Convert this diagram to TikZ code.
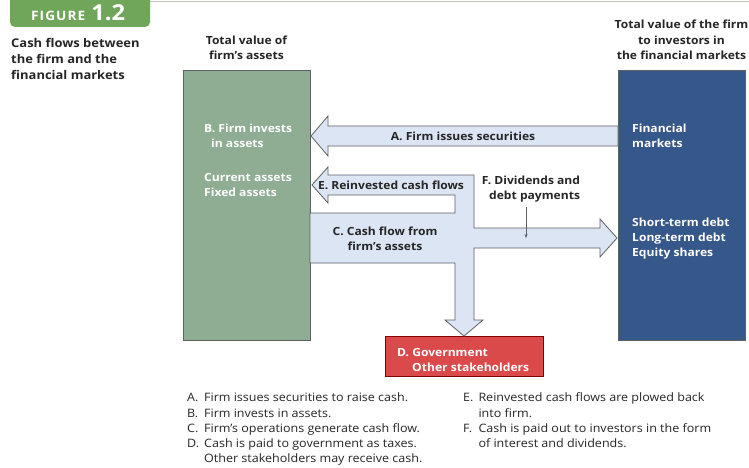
\documentclass[tikz,border=0pt]{standalone}
\usepackage{fontspec}
\usetikzlibrary{arrows.meta}
\setmainfont{Open Sans}[FakeStretch=1.08]
\newfontfamily\figfont{Open Sans}[LetterSpace=8,FakeStretch=1.05]
\definecolor{figgreen}{HTML}{6FA65A}
\definecolor{boxgreen}{HTML}{8EAD93}
\definecolor{boxblue}{HTML}{35578A}
\definecolor{arrowfill}{HTML}{DCE5F3}
\definecolor{redbox}{HTML}{DA4A4A}
\definecolor{textdark}{HTML}{262626}
\definecolor{edgegray}{HTML}{5E6066}
\begin{document}
\begin{tikzpicture}[x=1pt,y=-1pt,
  lbl/.style={font=\fontsize{11.2}{15.5}\selectfont\bfseries, text=textdark, inner sep=0pt},
  wlbl/.style={font=\fontsize{11.2}{15}\selectfont\bfseries, text=white, inner sep=0pt, align=left},
  flow/.style={fill=arrowfill, draw=edgegray, line width=0.8pt, line join=miter},
  legend/.style={font=\fontsize{11.6}{15.2}\selectfont, text=textdark, inner sep=0pt, anchor=north west}]
\useasboundingbox (0,0) rectangle (749,468);
\fill[white] (0,0) rectangle (749,468);
% top rule and tab
\draw[figgreen!50!gray!50, line width=1pt] (150,2) -- (749,2);
\fill[figgreen, rounded corners=5pt] (10,-10) rectangle (150,27);
\node[inner sep=0pt, text=white, anchor=base west] (fig) at (31,21) {{\figfont\fontsize{13}{13}\selectfont\bfseries FIGURE}\hspace{6pt}{\fontsize{22}{22}\selectfont\bfseries 1.2}};
% title
\node[inner sep=0pt, anchor=north west, align=left, text=textdark, font=\fontsize{12}{16}\selectfont\bfseries] (title) at (11,38) {Cash flows between\\the firm and the\\financial markets};
% headers
\node[lbl, align=center] (hleft) at (246.5,48) {Total value of\\firm's assets};
\node[lbl, align=center] (hright) at (681.5,40) {Total value of the firm\\to investors in\\the financial markets};
% boxes
\node[draw=edgegray, line width=0.8pt, fill=boxgreen, minimum width=127pt, minimum height=270pt, inner sep=0pt] (firm) at (246.5,205) {};
\node[draw=edgegray, line width=0.8pt, fill=boxblue, minimum width=127pt, minimum height=270pt, inner sep=0pt] (mkt) at (681.5,205) {};
\node[draw=red!50!black, line width=0.6pt, fill=redbox, minimum width=158pt, minimum height=40pt, inner sep=0pt] (gov) at (464,356) {};
% arrows
\draw[flow] (311,136) -- (328,116) -- (328,126) -- (618,126) -- (618,146) -- (328,146) -- (328,156) -- cycle;
\draw[flow] (312,185) -- (328,167) -- (328,175) -- (474,175) -- (474,228) -- (600,228) -- (600,219) -- (617,238) -- (600,257) -- (600,248) -- (474,248) -- (474,320) -- (483,320) -- (464,336) -- (445,320) -- (455,320) -- (455,263) -- (310,263) -- (310,213) -- (455,213) -- (455,195) -- (328,195) -- (328,203) -- cycle;
% arrow labels
\node[lbl] (la) at (463,136) {A. Firm issues securities};
\node[lbl] (le) at (391,185) {E. Reinvested cash flows};
\node[lbl, align=center] (lc) at (385,239) {C. Cash flow from\\firm's assets};
\node[lbl, align=right] (lf) at (531,189) {F. Dividends and\\debt payments};
\coordinate (ftip) at (526,238);
\draw[edgegray, line width=0.6pt, -{Stealth[length=4pt,width=3pt]}] (526,207) -- (ftip);
% box texts
\node[wlbl, anchor=west] (lb) at (204,136) {B. Firm invests\\\hspace*{7pt}in assets};
\node[wlbl, anchor=west] (lb2) at (204,185) {Current assets\\Fixed assets};
\node[wlbl, anchor=west] (lfm) at (632,136) {Financial\\markets};
\node[wlbl, anchor=west] (lsec) at (632,239) {Short-term debt\\Long-term debt\\Equity shares};
\node[wlbl, anchor=west] (ld) at (397,359.5) {D. Government\\\hspace*{15pt}Other stakeholders};
% legend
\node[legend] (leg1) at (187,391) {\begin{tabular}{@{}l@{\hspace{5pt}}l@{}}A. & Firm issues securities to raise cash.\\B. & Firm invests in assets.\\C. & Firm's operations generate cash flow.\\D. & Cash is paid to government as taxes.\\ & Other stakeholders may receive cash.\end{tabular}};
\node[legend] (leg2) at (463,391) {\begin{tabular}{@{}l@{\hspace{5pt}}l@{}}E. & Reinvested cash flows are plowed back\\ & into firm.\\F. & Cash is paid out to investors in the form\\ & of interest and dividends.\end{tabular}};
\end{tikzpicture}
\end{document}
